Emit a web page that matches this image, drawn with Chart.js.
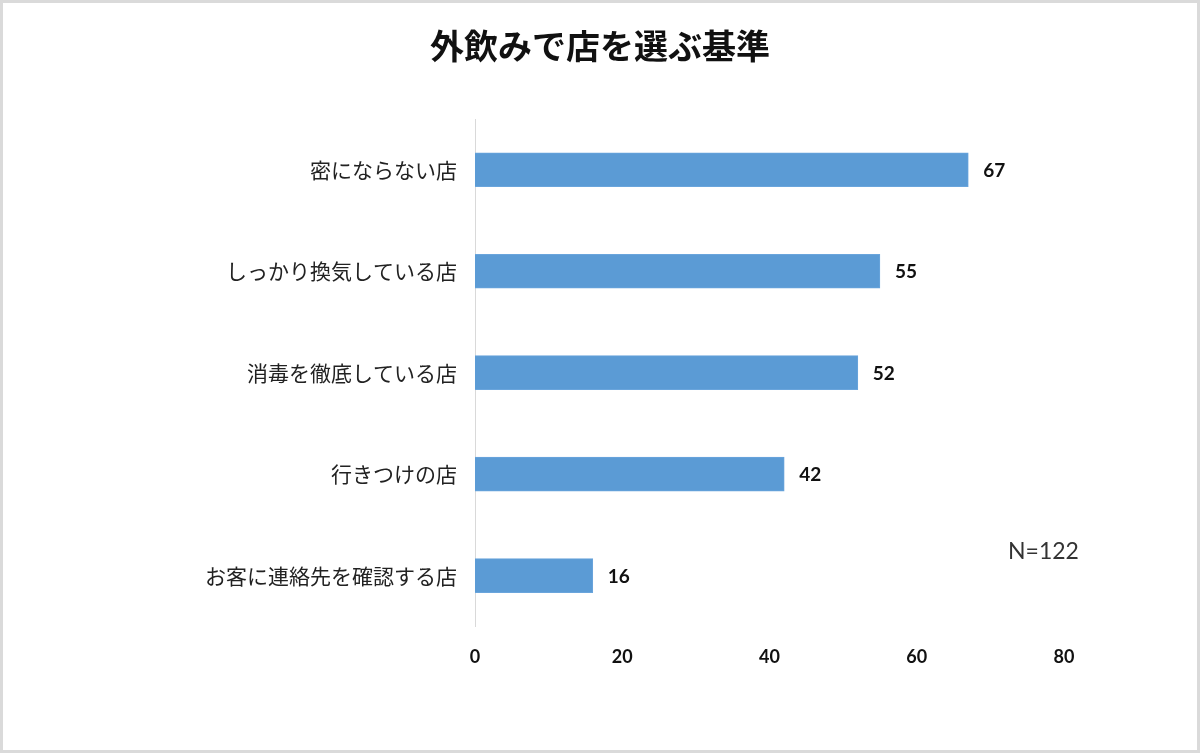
<!DOCTYPE html>
<html>
<head>
<meta charset="utf-8">
<script src="https://cdn.jsdelivr.net/npm/chart.js@4/dist/chart.umd.min.js"></script>
<style>
  html, body { margin: 0; padding: 0; background: #fff; }
  #wrap {
    width: 1200px; height: 753px;
    box-sizing: border-box;
    border: 3px solid #dadada;
    position: relative;
  }
  #chart { display: block; }
</style>
</head>
<body>
<div id="wrap"><canvas id="chart" width="1194" height="747"></canvas></div>
<script>
// Data
const titleText  = "外飲みで店を選ぶ基準";
const categories = ["密にならない店", "しっかり換気している店", "消毒を徹底している店", "行きつけの店", "お客に連絡先を確認する店"];
const values     = [67, 55, 52, 42, 16];
const xTicks     = [0, 20, 40, 60, 80];
const noteText   = "N=122";

const barColor = "#5b9bd5";

// title centred on the whole canvas (the built-in one centres on the padded box)
const pageTitle = {
  id: "pageTitle",
  afterDraw(chart) {
    const ctx = chart.ctx;
    ctx.save();
    ctx.font = "bold 34px 'Noto Sans CJK JP'";
    ctx.fillStyle = "#111";
    ctx.textAlign = "center";
    ctx.textBaseline = "middle";
    ctx.fillText(titleText, chart.width / 2, 43);
    ctx.restore();
  }
};

// value labels next to each bar + the N= note
const valueLabels = {
  id: "valueLabels",
  afterDatasetsDraw(chart) {
    const ctx = chart.ctx;
    const meta = chart.getDatasetMeta(0);
    ctx.save();
    ctx.font = "bold 19px Lato";
    ctx.fillStyle = "#111";
    ctx.textAlign = "left";
    ctx.textBaseline = "middle";
    meta.data.forEach(function(bar, i) {
      ctx.fillText(values[i], bar.x + 15, bar.y + 1);
    });

    // sample size note
    ctx.font = "23px Lato";
    ctx.fillStyle = "#333";
    ctx.textAlign = "left";
    ctx.fillText(noteText, chart.chartArea.right - 56, 549);
    ctx.restore();
  }
};

const ctx = document.getElementById("chart").getContext("2d");

new Chart(ctx, {
  type: "bar",
  data: {
    labels: categories,
    datasets: [{
      data: values,
      backgroundColor: barColor,
      borderColor: "#6aa5dc",
      borderWidth: 1,
      barThickness: 34
    }]
  },
  plugins: [valueLabels, pageTitle],
  options: {
    indexAxis: "y",
    responsive: false,
    animation: false,
    layout: { padding: { left: 0, right: 133, top: 116, bottom: 62 } },
    plugins: {
      legend: { display: false },
      tooltip: { enabled: false },
      title: { display: false }
    },
    scales: {
      x: {
        min: 0,
        max: 80,
        afterBuildTicks: function(scale) {
          scale.ticks = xTicks.map(function(v) { return { value: v }; });
        },
        grid: { display: false, drawTicks: false },
        border: { display: false },
        ticks: {
          padding: 20,
          color: "#111",
          font: { family: "Lato", size: 18, weight: "bold" }
        }
      },
      y: {
        afterFit: function(scale) { scale.width = 472; },
        grid: { display: false, drawTicks: false },
        border: { display: true, color: "#d9d9d9", width: 1 },
        ticks: {
          padding: 18,
          color: "#222",
          font: { family: "'Noto Sans CJK JP'", size: 21 }
        }
      }
    }
  }
});
</script>
</body>
</html>
